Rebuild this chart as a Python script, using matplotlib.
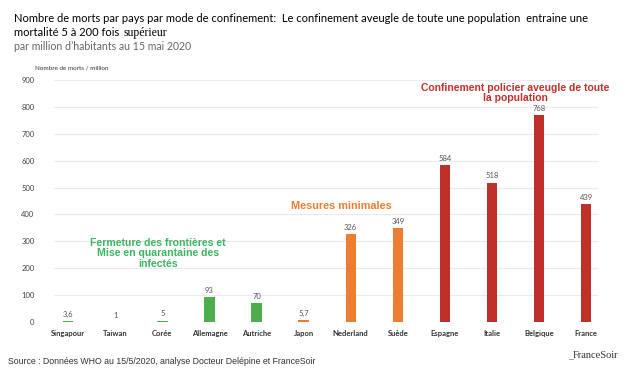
import matplotlib
matplotlib.use('Agg')
import matplotlib.pyplot as plt
from matplotlib.patches import Rectangle

# data
pays = ['Singapour', 'Taiwan', 'Corée', 'Allemagne', 'Autriche', 'Japon',
        'Nederland', 'Suède', 'Espagne', 'Italie', 'Belgique', 'France']
morts = [3.6, 1, 5, 93, 70, 5.7, 326, 349, 584, 518, 768, 439]
etiquettes = ['3,6', '1', '5', '93', '70', '5,7', '326', '349', '584', '518', '768', '439']
groupe = ['g', 'g', 'g', 'g', 'g', 'o', 'o', 'o', 'r', 'r', 'r', 'r']
yticks = [0, 100, 200, 300, 400, 500, 600, 700, 800, 900]

COL = {'g': '#4EAE4E', 'o': '#ED7D31', 'r': '#C0302B'}
GREEN_TXT = '#3DB560'

plt.rcParams['font.family'] = ['Lato', 'DejaVu Sans']

fig = plt.figure(figsize=(6.38, 3.73), dpi=100)
ax = fig.add_axes([54 / 638, 1 - 322 / 373, 544 / 638, 242 / 373])

xs = list(range(len(pays)))
ax.bar(xs, morts, width=0.22, color=[COL[g] for g in groupe], zorder=3)
for x, v, t in zip(xs, morts, etiquettes):
    ax.text(x, v + 12, t, ha='center', va='bottom', fontsize=5.5, color='#555555', zorder=6)

ax.set_xlim(-0.3, 11.25)
ax.set_ylim(0, 900)
ax.set_yticks(yticks)
ax.set_yticklabels([str(v) for v in yticks], fontsize=5.5, color='#444444')
ax.set_xticks(xs)
ax.set_xticklabels(pays, fontsize=5.5, fontweight='bold', color='#333333')
ax.tick_params(length=0, pad=6)
ax.tick_params(axis='y', pad=14)
for s in ax.spines.values():
    s.set_visible(False)
ax.grid(axis='y', color='#EBEBEB', lw=0.8, zorder=0)

ax.text(-0.7, 935, 'Nombre de morts / million', fontsize=4.5, color='#333333',
        ha='left', va='bottom', clip_on=False)

# white patches hiding gridlines behind the group captions
ax.add_patch(Rectangle((4.71, 470), 2.82, 60, facecolor='white', edgecolor='none', zorder=1))
ax.add_patch(Rectangle((0.08, 180), 3.6, 140, facecolor='white', edgecolor='none', zorder=1))

ax.text(9.5, 852, 'Confinement policier aveugle de toute\nla population', ha='center',
        va='center', fontsize=7.5, fontweight='bold', color='#C0302B', linespacing=1.0,
        family='Liberation Sans', zorder=5)
ax.text(5.8, 432, 'Mesures minimales', ha='center', va='center', fontsize=7.8,
        fontweight='bold', color='#ED7D31', family='Liberation Sans', zorder=5)
ax.text(1.9, 255, 'Fermeture des frontières et\nMise en quarantaine des\ninfectés',
        ha='center', va='center', fontsize=7.6, fontweight='bold', color=GREEN_TXT,
        linespacing=1.1, family='Liberation Sans', zorder=5)

fig.text(14 / 638, 1 - 18 / 373,
         'Nombre de morts par pays par mode de confinement:  Le confinement aveugle de toute une population  entraine une',
         fontsize=8.0, va='center', ha='left', color='black')
t1 = fig.text(14 / 638, 1 - 33 / 373, 'mortalité 5 à 200 fois', fontsize=8.0,
              va='center', ha='left', color='black')
fig.canvas.draw()
bb = t1.get_window_extent()
fig.text((bb.x1 + 4) / 638, 1 - 33 / 373, 'supérieur', fontsize=8.5, va='center', ha='left',
         family='Liberation Serif', color='black')
fig.text(14 / 638, 1 - 46 / 373, 'par million d\u2019habitants au 15 mai 2020', fontsize=7.6,
         va='center', ha='left', color='#666666')

fig.text(8 / 638, 1 - 362 / 373, 'Source : Données WHO au 15/5/2020, analyse Docteur Delépine et FranceSoir',
         fontsize=6.3, va='center', ha='left', color='#333333', family='Liberation Sans')
fig.text(568 / 638, 1 - 356 / 373, '_', fontsize=7, color='#C0302B', va='center', ha='left',
         family='Liberation Serif')
fig.text(573 / 638, 1 - 355 / 373, 'FranceSoir', fontsize=7.5, color='#333333', va='center',
         ha='left', family='Liberation Serif')

fig.savefig('out.png', dpi=100)
